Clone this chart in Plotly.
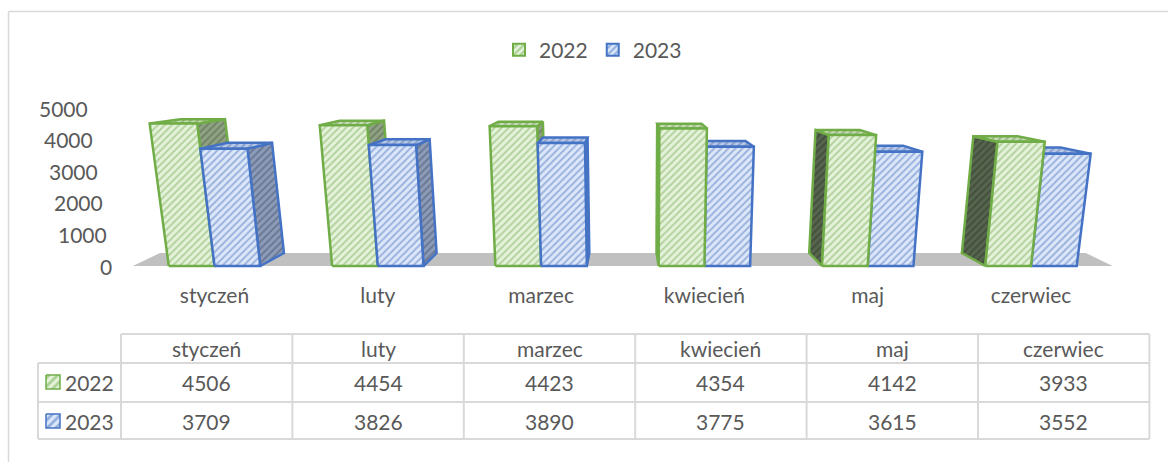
import plotly.graph_objects as go

categories = ["styczeń", "luty", "marzec", "kwiecień", "maj", "czerwiec"]
series_names = ["2022", "2023"]
values_2022 = [4506, 4454, 4423, 4354, 4142, 3933]
values_2023 = [3709, 3826, 3890, 3775, 3615, 3552]
y_ticks = [0, 1000, 2000, 3000, 4000, 5000]

W, H = 1168, 462
PX_PER_CAT = 163.3
X0_PX = 214.5
Y0_PX = 266.0
PX_PER_VAL = 158.0 / 5000
BAR_W = 0.28
LEAN_CX, LEAN_K = 2.606, 9e-6
DEPTH_CX, DEPTH_S = 2.514, 0.935
BACK_LIFT, BACK_S = 411.0, 0.94
FLOOR_S = 0.945
TEXT = "#595959"
GRID = "#D9D9D9"
FONT = "Lato"
FS = 21

STYLE = {
    "2022": dict(line="#70AD47",
                 front=("#E4F2DB", "#7FB05C"),
                 top=("#C5DDB4", "#70905A"),
                 right=("#8FA283", "#4F6146"),
                 left=("#56654D", "#2E382A")),
    "2023": dict(line="#4472C4",
                 front=("#DCE8F8", "#5678C6"),
                 top=("#B9C9E8", "#5A76AE"),
                 right=("#8C9BB8", "#46536E"),
                 left=("#56627C", "#2D3444")),
}


def xdata(px):
    return (px - X0_PX) / PX_PER_CAT


def ydata(py):
    return (Y0_PX - py) / PX_PER_VAL


def front(x, v):
    return LEAN_CX + (x - LEAN_CX) * (1 + LEAN_K * v), v


def back(x, v):
    fx, _ = front(x, v)
    return DEPTH_CX + (fx - DEPTH_CX) * DEPTH_S, BACK_LIFT + v * BACK_S


def poly(points, colors, line, width=2.5):
    xs = [p[0] for p in points] + [points[0][0]]
    ys = [p[1] for p in points] + [points[0][1]]
    return go.Scatter(
        x=xs, y=ys, mode="lines", fill="toself", showlegend=False, hoverinfo="skip",
        line=dict(color=line, width=width),
        fillcolor=colors[0],
        fillpattern=dict(shape="/", size=5, solidity=0.38,
                         bgcolor=colors[0], fgcolor=colors[1]),
    )


fig = go.Figure()

# floor
fig.add_trace(go.Scatter(
    x=[-0.5, 5.5,
       DEPTH_CX + (5.5 - DEPTH_CX) * FLOOR_S, DEPTH_CX + (-0.5 - DEPTH_CX) * FLOOR_S, -0.5],
    y=[0, 0, BACK_LIFT, BACK_LIFT, 0],
    mode="lines", fill="toself", fillcolor="#C0C0C0", line=dict(width=0),
    showlegend=False, hoverinfo="skip"))

# bars: the ones farthest from the middle are painted first
bars = []
for i in range(len(categories)):
    bars.append((i - BAR_W, i, values_2022[i], "2022"))
    bars.append((i, i + BAR_W, values_2023[i], "2023"))
bars.sort(key=lambda b: -abs((b[0] + b[1]) / 2 - DEPTH_CX))

for xl, xr, v, name in bars:
    s = STYLE[name]
    if xr < DEPTH_CX:
        fig.add_trace(poly([front(xr, 0), back(xr, 0), back(xr, v), front(xr, v)],
                           s["right"], s["line"]))
    if xl > DEPTH_CX:
        fig.add_trace(poly([front(xl, 0), back(xl, 0), back(xl, v), front(xl, v)],
                           s["left"], s["line"]))
    fig.add_trace(poly([front(xl, v), front(xr, v), back(xr, v), back(xl, v)], s["top"], s["line"]))
    fig.add_trace(poly([front(xl, 0), front(xr, 0), front(xr, v), front(xl, v)], s["front"], s["line"]))

# legend entries
for name in series_names:
    s = STYLE[name]
    fig.add_trace(go.Bar(
        x=[None], y=[None], name=name,
        marker=dict(color=s["front"][0], line=dict(color=s["line"], width=2),
                    pattern=dict(shape="/", size=6, solidity=0.45,
                                 bgcolor=s["front"][0], fgcolor=s["line"]))))

# data table
col_edges = [121 + 171.4 * k for k in range(7)]
row_edges = [334, 363, 402, 439]
shapes = []
for k, cx in enumerate(col_edges):
    shapes.append(dict(type="line", xref="paper", yref="paper",
                       x0=cx / W, x1=cx / W, y0=1 - row_edges[0] / H, y1=1 - row_edges[-1] / H,
                       line=dict(color=GRID, width=2)))
shapes.append(dict(type="line", xref="paper", yref="paper",
                   x0=38 / W, x1=38 / W, y0=1 - row_edges[1] / H, y1=1 - row_edges[-1] / H,
                   line=dict(color=GRID, width=2)))
for j, ry in enumerate(row_edges):
    x0 = 121 if j == 0 else 38
    shapes.append(dict(type="line", xref="paper", yref="paper",
                       x0=x0 / W, x1=col_edges[-1] / W, y0=1 - ry / H, y1=1 - ry / H,
                       line=dict(color=GRID, width=2)))
# frame of the chart area: only its top and left edges are in view
shapes.append(dict(type="line", xref="paper", yref="paper",
                   x0=8.5 / W, x1=1, y0=1 - 11.5 / H, y1=1 - 11.5 / H,
                   line=dict(color=GRID, width=1.5), layer="below"))
shapes.append(dict(type="line", xref="paper", yref="paper",
                   x0=8.5 / W, x1=8.5 / W, y0=1 - 11.5 / H, y1=0,
                   line=dict(color=GRID, width=1.5), layer="below"))

annotations = []


def cell(text, xc, yc, anchor="center"):
    annotations.append(dict(text=text, xref="paper", yref="paper",
                            x=xc / W, y=1 - yc / H, xanchor=anchor, yanchor="middle",
                            showarrow=False, font=dict(family=FONT, size=FS, color=TEXT)))


for k, cat in enumerate(categories):
    xc = (col_edges[k] + col_edges[k + 1]) / 2
    cell(cat, xc, 348)
    cell(str(values_2022[k]), xc, 382)
    cell(str(values_2023[k]), xc, 421)
for name, yc in zip(series_names, (382, 421)):
    cell(name, 63, yc, "left")
    s = STYLE[name]
    x0, x1, y0, y1 = xdata(46), xdata(60), ydata(yc - 7), ydata(yc + 7)
    fig.add_trace(go.Scatter(
        x=[x0, x1, x1, x0, x0], y=[y0, y0, y1, y1, y0], mode="lines", fill="toself",
        showlegend=False, hoverinfo="skip", line=dict(color=s["line"], width=1.5),
        fillcolor=s["front"][0],
        fillpattern=dict(shape="/", size=6, solidity=0.45,
                         bgcolor=s["front"][0], fgcolor=s["line"])))

# value-axis labels follow the lean of the chart's left edge
for t in y_ticks:
    annotations.append(dict(text=str(t), xref="x", yref="y",
                            x=front(xdata(113), t)[0], y=t,
                            xanchor="right", yanchor="middle", showarrow=False,
                            borderpad=0,
                            font=dict(family=FONT, size=FS, color=TEXT)))

fig.update_layout(
    width=W, height=H, autosize=False,
    margin=dict(l=0, r=0, t=0, b=0),
    paper_bgcolor="white", plot_bgcolor="white",
    font=dict(family=FONT, size=FS, color=TEXT),
    barmode="group",
    shapes=shapes, annotations=annotations,
    legend=dict(orientation="h", x=593 / W, xanchor="center", y=1 - 50 / H, yanchor="middle",
                font=dict(family=FONT, size=FS, color=TEXT), itemwidth=30,
                bgcolor="rgba(0,0,0,0)", traceorder="normal"),
    xaxis=dict(range=[xdata(0), xdata(W)], domain=[0, 1], anchor="free",
               position=1 - Y0_PX / H,
               tickmode="array", tickvals=list(range(len(categories))), ticktext=categories,
               ticks="outside", ticklen=11, tickcolor="rgba(0,0,0,0)",
               showgrid=False, zeroline=False, showline=False, layer="above traces"),
    yaxis=dict(range=[ydata(H), ydata(0)], domain=[0, 1], anchor="free",
               position=112 / W,
               tickmode="array", tickvals=y_ticks, showticklabels=False,
               ticks="", showgrid=False, zeroline=False, showline=False),
)

fig.write_html("out.html", config={"displayModeBar": False},
               post_script="document.body.style.margin='0';document.documentElement.style.overflow='hidden';")
